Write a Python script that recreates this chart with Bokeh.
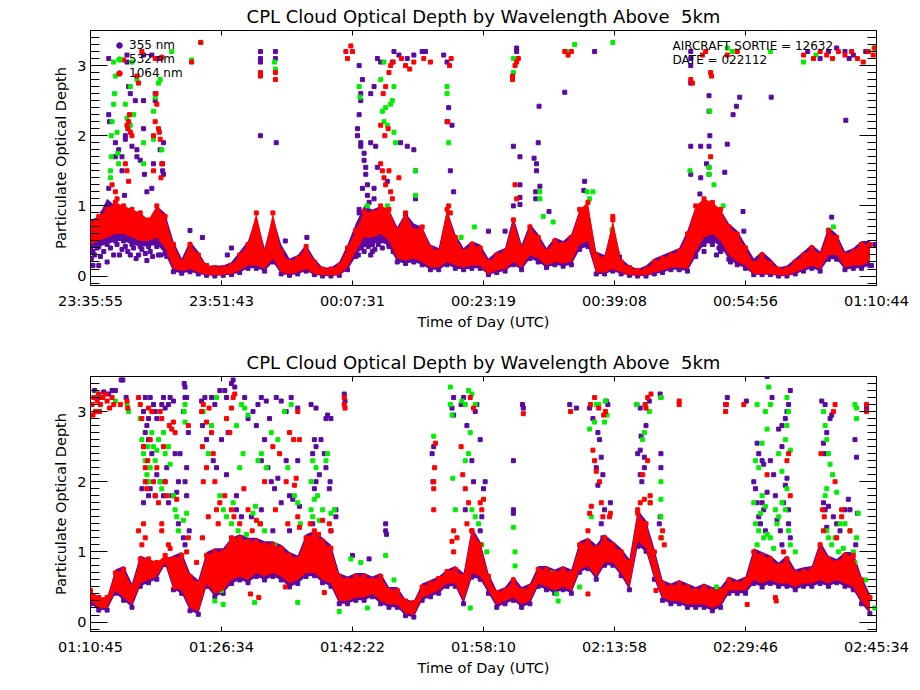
from bokeh.plotting import figure
from bokeh.models import (ColumnDataSource, FixedTicker, LinearAxis, Range1d,
                          Label, Legend, LegendItem, CustomJSTickFormatter)
from bokeh.layouts import column
from bokeh.embed import file_html
from bokeh.resources import INLINE

PURPLE = "#5a0aa0"
GREEN = "#00ee00"
RED = "#ff0000"
FONT = "DejaVu Sans"

TITLE = "CPL Cloud Optical Depth by Wavelength Above \u00a05km"

# tick positions are minutes after the start of each panel
tick_min = [0, 15.8, 31.6, 47.4, 63.2, 79.0, 94.8]
top_ticks = ["23:35:55", "23:51:43", "00:07:31", "00:23:19", "00:39:08", "00:54:56", "01:10:44"]
bot_ticks = ["01:10:45", "01:26:34", "01:42:22", "01:58:10", "02:13:58", "02:29:46", "02:45:34"]

# one-minute bins, minutes after panel start
band_t = [0, 1, 2, 3, 4, 5, 6, 7, 8, 9,
          10, 11, 12, 13, 14, 15, 16, 17, 18, 19,
          20, 21, 22, 23, 24, 25, 26, 27, 28, 29,
          30, 31, 32, 33, 34, 35, 36, 37, 38, 39,
          40, 41, 42, 43, 44, 45, 46, 47, 48, 49,
          50, 51, 52, 53, 54, 55, 56, 57, 58, 59,
          60, 61, 62, 63, 64, 65, 66, 67, 68, 69,
          70, 71, 72, 73, 74, 75, 76, 77, 78, 79,
          80, 81, 82, 83, 84, 85, 86, 87, 88, 89,
          90, 91, 92, 93, 94]

# ---- upper panel: spread of the dense low-level data per bin ----
top_red_lo = [0.45, 0.50, 0.55, 0.60, 0.60, 0.55, 0.50, 0.50, 0.55, 0.40,
              0.10, 0.07, 0.10, 0.05, 0.02, 0.01, 0.02, 0.03, 0.08, 0.15,
              0.15, 0.10, 0.25, 0.05, 0.03, 0.05, 0.10, 0.03, 0.01, 0.01,
              0.02, 0.12, 0.35, 0.55, 0.55, 0.60, 0.50, 0.25, 0.22, 0.25,
              0.20, 0.12, 0.12, 0.20, 0.15, 0.12, 0.15, 0.15, 0.03, 0.08,
              0.10, 0.20, 0.12, 0.30, 0.25, 0.15, 0.20, 0.18, 0.20, 0.45,
              0.50, 0.05, 0.05, 0.10, 0.05, 0.02, 0.01, 0.01, 0.05, 0.08,
              0.12, 0.12, 0.10, 0.35, 0.55, 0.60, 0.50, 0.30, 0.20, 0.15,
              0.03, 0.03, 0.03, 0.01, 0.01, 0.05, 0.10, 0.15, 0.10, 0.30,
              0.30, 0.12, 0.15, 0.15, 0.20]
top_red_hi = [0.75, 0.85, 0.95, 1.05, 1.00, 0.95, 0.90, 0.80, 1.00, 0.85,
              0.45, 0.20, 0.45, 0.30, 0.15, 0.12, 0.12, 0.15, 0.30, 0.45,
              0.90, 0.35, 0.90, 0.35, 0.20, 0.25, 0.42, 0.20, 0.10, 0.10,
              0.15, 0.40, 0.65, 0.92, 0.90, 1.00, 0.95, 0.65, 0.90, 0.65,
              0.70, 0.40, 0.35, 0.95, 0.55, 0.35, 0.45, 0.40, 0.20, 0.30,
              0.35, 0.80, 0.40, 0.70, 0.55, 0.35, 0.50, 0.45, 0.55, 0.95,
              1.05, 0.30, 0.25, 0.80, 0.20, 0.12, 0.08, 0.10, 0.20, 0.25,
              0.30, 0.35, 0.60, 1.00, 1.10, 1.05, 0.95, 0.70, 0.60, 0.40,
              0.18, 0.30, 0.18, 0.10, 0.10, 0.20, 0.30, 0.40, 0.30, 0.65,
              0.55, 0.30, 0.35, 0.45, 0.45]
top_pur_lo = [0.38, 0.42, 0.45, 0.50, 0.50, 0.45, 0.42, 0.42, 0.45, 0.32,
              0.06, 0.04, 0.06, 0.03, 0.01, 0.00, 0.01, 0.02, 0.05, 0.11,
              0.11, 0.07, 0.20, 0.03, 0.01, 0.03, 0.07, 0.02, 0.00, 0.00,
              0.01, 0.09, 0.28, 0.45, 0.45, 0.50, 0.42, 0.20, 0.18, 0.20,
              0.16, 0.09, 0.09, 0.16, 0.11, 0.09, 0.11, 0.11, 0.02, 0.05,
              0.07, 0.16, 0.09, 0.25, 0.20, 0.12, 0.16, 0.14, 0.16, 0.38,
              0.42, 0.03, 0.03, 0.07, 0.03, 0.01, 0.00, 0.00, 0.03, 0.05,
              0.09, 0.09, 0.07, 0.28, 0.45, 0.50, 0.42, 0.24, 0.16, 0.11,
              0.02, 0.02, 0.02, 0.00, 0.00, 0.03, 0.07, 0.11, 0.07, 0.24,
              0.24, 0.09, 0.11, 0.11, 0.15]
top_pur_hi = [0.80, 0.85, 1.10, 1.00, 1.00, 0.95, 0.90, 0.80, 1.00, 0.90,
              0.50, 0.25, 0.50, 0.35, 0.15, 0.15, 0.15, 0.20, 0.35, 0.50,
              0.85, 0.40, 0.85, 0.45, 0.25, 0.30, 0.45, 0.25, 0.12, 0.12,
              0.20, 0.45, 0.75, 1.00, 0.95, 1.00, 0.95, 0.70, 0.90, 0.75,
              0.70, 0.45, 0.40, 0.95, 0.60, 0.40, 0.50, 0.45, 0.25, 0.35,
              0.40, 0.85, 0.45, 0.75, 0.60, 0.40, 0.55, 0.50, 0.60, 0.95,
              1.00, 0.35, 0.30, 0.75, 0.25, 0.15, 0.10, 0.15, 0.25, 0.30,
              0.35, 0.40, 0.65, 1.00, 1.10, 1.00, 0.95, 0.75, 0.65, 0.45,
              0.25, 0.35, 0.25, 0.12, 0.15, 0.25, 0.35, 0.45, 0.35, 0.70,
              0.60, 0.35, 0.40, 0.50, 0.50]

# ---- upper panel: scattered retrievals (minute, optical depth) ----
top_purple_pts = [
    (1.5, 0.9), (1.8, 0.95), (2.2, 3.1), (2.2, 2.3), (2.3, 2.2), (2.2, 1.25), (3.0, 1.7),
    (3.0, 1.9), (3.4, 1.8), (3.8, 1.5), (3.8, 1.7), (4.1, 1.15), (4.4, 3.05), (4.4, 3.15),
    (4.6, 2.7), (4.8, 2.6), (4.2, 1.95), (4.2, 2.0), (5.0, 1.85), (5.4, 2.5), (5.6, 1.7),
    (5.6, 1.8), (6.0, 1.65), (6.4, 2.5), (6.4, 2.1), (6.5, 1.45), (6.8, 1.2), (7.6, 1.6),
    (7.4, 1.25), (7.8, 2.5), (7.8, 2.6), (8.4, 1.8), (8.8, 1.9), (8.7, 1.5), (8.7, 1.6),
    (8.8, 1.45), (8.4, 3.1), (6.4, 3.15), (7.4, 3.15), (3.5, 0.3), (4.5, 0.35), (5.8, 0.3),
    (6.8, 0.22), (8.5, 0.3), (1.0, 0.15), (0.3, 0.15), (2.0, 0.2), (0.5, 0.3), (1.2, 0.28),
    (1.6, 0.35), (2.4, 0.4), (2.8, 0.3), (3.2, 0.45), (3.8, 0.38), (4.2, 0.42), (4.8, 0.3),
    (5.2, 0.4), (5.5, 0.25), (6.2, 0.38), (6.6, 0.32), (7.2, 0.35), (7.5, 0.28), (8.0, 0.42),
    (8.2, 0.3), (9.2, 0.28), (0.1, 0.25), (0.8, 0.4), (0.3, 0.35), (12.0, 0.65), (13.5, 0.55),
    (16.5, 0.3), (17.0, 0.4), (20.5, 3.1), (20.5, 3.2), (20.5, 3.05), (20.5, 2.0), (22.3, 3.2),
    (22.3, 3.1), (22.4, 1.9), (21.8, 0.5), (23.5, 0.5), (26.1, 0.55),
    (32.4, 3.0), (32.8, 2.8), (32.6, 2.5), (32.6, 2.6), (32.4, 2.3), (32.2, 2.0), (32.2, 2.1),
    (32.6, 1.85), (32.6, 1.9), (33.0, 1.65), (33.0, 1.75), (33.2, 1.45), (33.2, 1.55),
    (33.4, 1.15), (33.4, 1.3), (33.8, 2.6), (33.8, 1.9), (34.2, 2.7), (34.4, 1.85), (34.2, 1.1),
    (34.2, 1.25), (34.6, 1.55), (33.6, 1.05), (32.8, 1.25), (32.4, 0.9), (32.4, 0.95),
    (34.6, 3.1), (35.0, 3.05), (35.8, 1.35), (36.4, 3.05), (36.6, 3.2), (37.2, 3.15),
    (38.2, 3.1), (39.0, 3.15), (40.0, 3.2), (40.4, 3.2), (38.2, 1.85), (39.0, 1.8), (39.2, 1.5),
    (39.2, 1.1), (37.4, 1.9), (38.0, 0.88), (35.9, 0.75), (33.2, 0.45), (34.0, 0.35),
    (32.3, 0.3), (32.7, 0.4), (33.0, 0.35), (33.5, 0.42), (33.8, 0.3), (34.3, 0.38),
    (34.7, 0.45), (35.2, 0.4), (35.5, 0.5), (36.0, 0.45), (36.5, 0.35), (33.2, 0.6), (34.0, 0.55),
    (42.6, 3.15), (43.0, 2.2), (43.2, 2.4), (43.4, 1.5), (43.6, 2.15), (43.8, 1.2), (43.0, 3.05),
    (51.4, 3.2), (51.4, 3.25), (51.0, 1.85), (51.8, 1.7), (51.0, 1.0), (51.8, 1.12), (51.8, 1.3),
    (51.8, 1.02), (50.0, 0.64), (54.1, 2.42), (54.0, 1.9), (53.5, 1.68), (53.8, 1.5), (53.8, 1.6),
    (54.2, 1.28), (53.7, 1.1), (53.7, 1.2), (55.3, 0.92), (57.2, 2.62), (60.8, 3.2), (59.6, 1.35),
    (59.5, 1.22), (48.0, 0.64), (63.8, 0.27),
    (72.4, 3.0), (72.4, 3.1), (72.4, 3.2), (72.4, 2.75), (72.4, 1.85), (72.4, 1.45), (73.6, 1.85),
    (73.6, 1.4), (74.6, 1.85), (74.7, 2.0), (74.6, 2.35), (74.6, 2.57), (74.3, 1.6), (74.6, 1.45),
    (74.6, 1.55), (73.5, 1.17), (76.5, 1.48), (76.8, 1.88), (77.5, 2.3), (77.9, 2.42),
    (78.3, 2.55), (82.1, 2.55), (78.7, 0.92), (78.8, 0.64), (91.1, 2.22), (89.4, 0.84),
    (75.5, 0.3), (76.0, 0.35), (76.4, 0.4), (73.2, 0.45), (74.0, 0.35), (74.5, 0.5),
    (75.0, 0.45), (75.8, 0.4), (76.6, 0.38), (77.2, 0.2), (86.5, 3.2), (89.0, 3.2), (90.0, 3.25),
    (91.0, 3.2), (92.0, 3.15), (93.5, 3.2), (88.0, 3.1), (91.5, 3.1), (94.6, 0.45), (94.2, 0.15)]
top_green_pts = [
    (2.4, 1.4), (2.4, 1.5), (2.5, 1.7), (2.5, 2.0), (2.6, 2.2), (2.8, 2.45), (2.9, 2.6),
    (3.0, 2.85), (2.8, 3.05), (3.2, 2.05), (3.4, 1.6), (3.3, 1.75), (4.2, 2.45), (4.4, 2.25),
    (4.6, 2.1), (4.8, 2.15), (4.8, 2.7), (5.2, 2.3), (5.0, 3.05), (5.6, 2.8), (6.4, 1.9),
    (6.4, 1.6), (7.6, 2.35), (7.8, 2.55), (8.2, 2.75), (8.4, 2.8), (8.6, 1.8), (7.6, 1.95),
    (9.8, 3.2), (12.2, 3.08), (13.3, 3.33), (22.3, 2.95), (22.2, 3.05), (32.4, 2.7),
    (32.5, 2.55), (35.0, 2.8), (35.2, 2.35), (35.4, 2.2), (35.6, 2.4), (35.8, 2.15),
    (36.2, 2.45), (36.4, 2.5), (36.6, 2.05), (36.8, 1.9), (35.4, 3.05), (36.6, 2.7), (35.8, 1.0),
    (39.2, 1.5), (39.2, 1.15), (43.0, 2.6), (43.0, 2.7), (43.2, 1.9), (44.7, 0.55), (46.3, 0.7),
    (51.0, 3.1), (51.0, 2.9), (54.2, 1.2), (54.2, 1.1), (54.6, 0.85), (55.8, 0.77), (57.4, 3.2),
    (58.4, 3.3), (59.9, 1.2), (60.6, 1.2), (62.9, 0.66), (63.0, 3.33), (72.3, 1.5), (74.6, 1.55),
    (74.6, 1.45), (74.7, 2.35), (75.2, 1.3), (76.3, 1.0), (76.8, 3.25), (77.4, 3.2), (82.0, 3.2),
    (86.0, 3.05), (87.5, 3.15), (94.5, 3.25), (89.6, 0.7), (20.0, 0.55), (23.0, 0.25),
    (33.4, 1.0), (60.2, 1.1), (81.0, 0.2)]
top_red_pts = [
    (2.6, 1.3), (3.0, 1.2), (3.2, 1.1), (4.2, 1.6), (4.4, 1.5), (4.6, 1.35), (4.4, 2.15),
    (4.5, 2.1), (4.6, 2.2), (4.8, 2.05), (5.0, 2.0), (4.7, 2.3), (5.6, 2.85), (5.8, 2.75),
    (6.2, 3.2), (4.0, 3.08), (7.6, 2.0), (7.8, 2.2), (7.9, 2.6), (8.0, 2.45), (8.2, 2.1),
    (8.3, 2.05), (8.4, 1.95), (7.6, 1.5), (8.5, 1.4), (8.6, 1.6), (8.6, 3.12), (7.8, 3.1),
    (12.2, 3.05), (13.3, 3.33), (20.5, 2.85), (20.5, 2.9), (22.3, 2.9), (22.3, 2.8), (30.8, 3.2),
    (31.0, 3.1), (31.4, 3.28), (31.6, 3.2), (35.0, 1.6), (35.2, 1.5), (35.4, 1.4), (35.6, 1.3),
    (35.0, 2.15), (35.5, 2.0), (35.9, 2.1), (35.3, 2.6), (35.6, 2.7), (36.0, 2.9), (36.2, 3.0),
    (36.5, 3.05), (36.0, 1.5), (36.2, 1.2), (36.4, 1.1), (37.5, 3.1), (38.0, 3.0), (38.5, 2.95),
    (39.0, 3.05), (40.2, 3.1), (41.0, 3.05), (43.1, 2.2), (43.3, 3.0), (43.5, 3.1), (43.2, 1.0),
    (43.4, 0.9), (37.2, 1.4), (50.9, 2.8), (50.9, 2.85), (51.2, 3.0), (51.4, 3.05), (51.6, 3.1),
    (51.2, 1.3), (51.4, 1.1), (57.2, 3.2), (57.6, 3.15), (58.0, 3.2), (63.0, 0.85), (72.4, 2.8),
    (72.6, 2.75), (73.8, 3.15), (74.2, 3.2), (74.8, 2.9), (74.9, 2.85), (74.8, 1.7), (76.8, 3.15),
    (78.0, 3.2), (86.0, 3.15), (87.2, 3.1), (88.0, 3.2), (88.8, 3.15), (89.5, 3.1), (90.2, 3.2),
    (91.0, 3.15), (91.8, 3.2), (92.5, 3.1), (93.2, 3.05), (93.8, 3.2), (94.4, 3.15), (94.6, 3.25)]

# ---- lower panel: spread of the dense low-level data per bin ----
bot_red_lo = [0.30, 0.20, 0.20, 0.45, 0.35, 0.25, 0.55, 0.60, 0.65, 0.85,
              0.50, 0.45, 0.20, 0.15, 0.55, 0.40, 0.45, 0.60, 0.65, 0.60,
              0.70, 0.65, 0.70, 0.65, 0.55, 0.60, 0.70, 0.70, 0.60, 0.55,
              0.30, 0.30, 0.35, 0.35, 0.40, 0.30, 0.25, 0.25, 0.12, 0.10,
              0.35, 0.40, 0.45, 0.55, 0.55, 0.30, 0.70, 0.65, 0.45, 0.25,
              0.30, 0.35, 0.25, 0.30, 0.55, 0.50, 0.45, 0.50, 0.45, 0.75,
              0.80, 0.65, 0.85, 0.85, 0.70, 0.50, 1.15, 1.05, 0.65, 0.35,
              0.30, 0.30, 0.25, 0.25, 0.25, 0.20, 0.25, 0.45, 0.45, 0.45,
              0.60, 0.55, 0.60, 0.55, 0.55, 0.50, 0.55, 0.55, 0.60, 0.55,
              0.60, 0.55, 0.50, 0.30, 0.15]
bot_red_hi = [0.45, 0.35, 0.35, 0.70, 0.75, 0.50, 0.90, 0.90, 0.85, 0.95,
              0.90, 0.95, 0.65, 0.55, 0.95, 1.00, 1.00, 1.20, 1.20, 1.15,
              1.15, 1.10, 1.10, 1.05, 0.95, 0.90, 1.20, 1.25, 1.15, 1.05,
              0.65, 0.60, 0.65, 0.65, 0.60, 0.65, 0.45, 0.45, 0.30, 0.28,
              0.50, 0.55, 0.62, 0.72, 0.75, 0.65, 1.30, 1.10, 0.65, 0.42,
              0.45, 0.60, 0.45, 0.50, 0.75, 0.75, 0.70, 0.75, 0.70, 1.10,
              1.15, 1.05, 1.20, 1.10, 1.00, 0.85, 1.55, 1.40, 1.00, 0.55,
              0.50, 0.55, 0.50, 0.45, 0.50, 0.45, 0.45, 0.60, 0.55, 0.60,
              1.00, 0.95, 0.90, 0.80, 0.90, 0.70, 0.72, 0.75, 1.10, 0.90,
              0.85, 0.95, 0.95, 0.60, 0.35]
bot_pur_lo = [0.26, 0.17, 0.17, 0.41, 0.31, 0.21, 0.51, 0.56, 0.61, 0.82,
              0.46, 0.41, 0.16, 0.11, 0.51, 0.36, 0.41, 0.55, 0.60, 0.56,
              0.65, 0.60, 0.65, 0.60, 0.50, 0.55, 0.65, 0.66, 0.56, 0.51,
              0.26, 0.26, 0.31, 0.31, 0.36, 0.26, 0.21, 0.21, 0.09, 0.07,
              0.31, 0.36, 0.41, 0.51, 0.51, 0.26, 0.64, 0.61, 0.41, 0.21,
              0.26, 0.31, 0.21, 0.26, 0.51, 0.46, 0.41, 0.46, 0.41, 0.71,
              0.76, 0.61, 0.81, 0.81, 0.66, 0.46, 1.08, 1.01, 0.61, 0.31,
              0.26, 0.26, 0.21, 0.21, 0.21, 0.16, 0.21, 0.41, 0.41, 0.41,
              0.55, 0.50, 0.55, 0.51, 0.51, 0.46, 0.51, 0.51, 0.55, 0.51,
              0.56, 0.51, 0.46, 0.26, 0.12]
bot_pur_hi = [0.45, 0.35, 0.35, 0.75, 0.80, 0.55, 0.95, 0.90, 0.85, 0.90,
              0.95, 1.00, 0.70, 0.60, 1.00, 1.05, 1.05, 1.20, 1.25, 1.20,
              1.20, 1.15, 1.15, 1.10, 1.00, 0.95, 1.25, 1.30, 1.20, 1.10,
              0.70, 0.65, 0.70, 0.70, 0.65, 0.70, 0.50, 0.50, 0.32, 0.30,
              0.55, 0.60, 0.65, 0.75, 0.80, 0.70, 1.35, 1.15, 0.70, 0.45,
              0.50, 0.65, 0.50, 0.55, 0.80, 0.80, 0.75, 0.80, 0.75, 1.15,
              1.20, 1.10, 1.25, 1.15, 1.05, 0.90, 1.60, 1.45, 1.05, 0.60,
              0.55, 0.60, 0.55, 0.50, 0.55, 0.50, 0.50, 0.65, 0.60, 0.65,
              1.05, 1.00, 0.95, 0.85, 0.95, 0.75, 0.78, 0.80, 1.15, 0.95,
              0.90, 1.00, 1.00, 0.65, 0.40]

# ---- lower panel: scattered retrievals (minute, optical depth) ----
bot_purple_pts = [
    (0.5, 3.3), (1.0, 3.2), (1.6, 3.28), (2.2, 3.25), (2.6, 3.3), (3.0, 3.3), (3.7, 3.45),
    (3.9, 3.45), (4.3, 3.2), (6.4, 3.0), (6.6, 3.2), (6.8, 2.8), (7.0, 2.9), (7.2, 3.2),
    (7.6, 3.1), (7.8, 3.0), (8.0, 2.9), (8.6, 3.1), (8.8, 3.2), (9.0, 3.05), (9.4, 3.1),
    (9.6, 3.2), (10.0, 3.15), (6.4, 2.5), (6.6, 2.7), (7.0, 2.6), (7.4, 2.4), (6.8, 2.0),
    (7.2, 1.9), (7.8, 1.8), (8.0, 2.1), (8.4, 2.0), (8.8, 1.8), (9.0, 2.0), (9.2, 2.2),
    (9.4, 1.7), (9.8, 1.8), (10.2, 2.4), (10.4, 1.85), (6.4, 1.7), (7.0, 1.8), (6.2, 1.9),
    (11.3, 3.4), (11.4, 3.35), (11.4, 3.2), (11.6, 3.2), (11.2, 3.0), (11.8, 2.7), (11.6, 2.2),
    (11.4, 2.0), (11.6, 1.8), (11.2, 1.2), (11.4, 1.1), (10.8, 2.4), (10.6, 2.0), (10.6, 1.4),
    (11.9, 1.3), (13.4, 3.15), (13.8, 3.2), (14.6, 3.2), (15.0, 3.1), (15.6, 3.3), (16.2, 3.3),
    (16.4, 3.2), (17.0, 3.4), (17.2, 3.45), (17.4, 3.35), (13.5, 2.8), (14.0, 2.6), (14.8, 2.3),
    (15.2, 2.2), (15.8, 2.6), (16.4, 2.1), (16.6, 2.7), (17.6, 1.8), (17.6, 1.6), (18.2, 1.5),
    (18.2, 1.2), (17.2, 0.75), (14.4, 0.8), (18.6, 3.2), (19.0, 2.9), (19.6, 3.0), (20.2, 3.1),
    (20.6, 3.2), (21.2, 3.15), (21.6, 2.9), (22.4, 3.2), (23.0, 3.15), (23.6, 3.0), (24.2, 3.2),
    (25.0, 3.05), (20.0, 2.8), (20.6, 2.3), (21.0, 2.6), (21.4, 2.2), (21.8, 2.0), (22.2, 1.9),
    (22.6, 2.05), (23.0, 1.7), (23.6, 2.3), (24.0, 1.8), (24.4, 1.75), (25.0, 2.3), (25.2, 1.65),
    (19.4, 1.5), (20.6, 1.6), (22.0, 1.3), (24.0, 1.3), (26.6, 3.1), (27.2, 3.05), (27.0, 2.6),
    (27.2, 2.5), (26.8, 2.4), (27.2, 2.0), (27.0, 1.9), (27.6, 2.1), (27.8, 2.6), (28.2, 2.4),
    (28.4, 2.2), (28.4, 2.9), (28.6, 2.95), (29.0, 2.9), (28.8, 1.9), (28.9, 2.0), (29.6, 1.6),
    (29.0, 1.3), (26.8, 1.4), (29.6, 1.5), (30.6, 3.25), (30.7, 3.15), (31.6, 0.95),
    (33.6, 0.9), (35.6, 1.4), (35.6, 1.3), (35.7, 1.25), (41.2, 2.4), (41.3, 2.0), (41.4, 2.5),
    (43.8, 3.2), (43.6, 3.05), (43.8, 2.95), (44.7, 3.1), (45.0, 3.2), (45.4, 2.8), (45.2, 1.6),
    (46.0, 2.3), (46.2, 2.0), (46.4, 3.0), (46.6, 3.1), (47.0, 2.6), (47.4, 1.9), (47.2, 1.5),
    (47.0, 1.3), (47.6, 2.0), (51.0, 2.3), (51.0, 1.55), (51.0, 1.6), (52.2, 3.05), (52.1, 3.1),
    (57.8, 3.1), (58.6, 3.05), (60.2, 3.05), (60.6, 2.9), (61.2, 2.7), (61.4, 2.6), (61.0, 2.2),
    (61.2, 1.95), (61.6, 2.35), (61.8, 2.1), (62.2, 3.15), (62.4, 3.1), (61.6, 1.4), (62.0, 1.6),
    (61.8, 1.2), (60.0, 1.1), (62.7, 1.7), (66.3, 2.45), (66.4, 2.65), (66.0, 2.4), (66.3, 2.1),
    (66.5, 2.0), (66.8, 2.2), (66.8, 2.35), (65.9, 3.1), (66.3, 3.05), (67.0, 2.8), (67.4, 3.15),
    (68.7, 3.25), (68.8, 3.2), (68.8, 2.4), (68.8, 2.2), (68.7, 1.5), (68.6, 1.4), (76.6, 3.1),
    (76.8, 3.2), (79.1, 3.15), (80.0, 2.0), (80.2, 1.9), (80.4, 1.7), (80.6, 1.5), (80.8, 1.4),
    (81.0, 1.7), (81.2, 1.6), (81.4, 1.3), (81.6, 1.85), (81.0, 2.3), (80.6, 2.4), (82.0, 2.3),
    (82.4, 2.1), (82.6, 1.8), (82.8, 1.45), (83.2, 1.3), (83.6, 1.7), (83.8, 1.95), (84.0, 2.05),
    (84.2, 1.4), (84.4, 1.2), (83.0, 2.75), (83.4, 2.8), (83.8, 2.9), (84.0, 3.0), (84.2, 3.1),
    (84.4, 3.3), (83.4, 2.5), (81.2, 2.25), (80.4, 2.55), (82.2, 3.2), (81.6, 3.5), (84.2, 1.6),
    (83.4, 1.1), (88.2, 3.15), (88.6, 3.1), (88.8, 2.7), (89.2, 2.9), (89.4, 2.95), (88.4, 2.55),
    (88.6, 2.4), (88.4, 1.7), (88.6, 1.6), (89.0, 1.65), (89.6, 1.5), (90.0, 1.4), (88.8, 1.35),
    (90.4, 1.3), (91.0, 1.6), (91.4, 1.75), (91.6, 1.6), (92.2, 2.6), (92.4, 2.35), (92.5, 1.55),
    (92.3, 1.1), (93.6, 3.05), (92.8, 0.5)]
bot_green_pts = [
    (3.0, 3.15), (4.4, 3.1), (4.6, 3.0), (0.9, 3.25), (6.0, 2.9), (6.2, 2.6), (6.4, 2.4),
    (6.6, 2.3), (6.8, 2.1), (6.9, 2.5), (7.0, 2.0), (7.2, 2.2), (7.4, 2.7), (7.6, 2.5),
    (7.8, 2.3), (8.0, 2.45), (8.2, 2.6), (8.4, 2.0), (8.6, 1.9), (8.8, 2.7), (9.0, 2.4),
    (9.4, 2.5), (9.6, 2.25), (10.0, 1.8), (10.2, 1.6), (10.4, 1.5), (10.6, 1.3), (11.2, 1.45),
    (11.4, 2.85), (11.4, 3.1), (11.3, 3.0), (11.6, 1.55), (13.6, 3.0), (14.2, 2.4), (14.6, 2.8),
    (15.2, 3.2), (15.6, 1.8), (16.0, 1.6), (16.4, 1.5), (17.0, 1.4), (17.2, 1.7), (17.6, 2.8),
    (18.2, 3.1), (18.6, 3.05), (19.0, 2.95), (18.0, 2.2), (18.4, 2.4), (17.8, 1.3), (18.8, 1.25),
    (19.6, 1.55), (19.9, 1.65), (20.4, 1.4), (21.0, 1.3), (21.2, 2.2), (20.6, 2.4), (20.2, 2.3),
    (21.8, 2.7), (22.6, 2.6), (23.4, 3.0), (24.2, 3.1), (23.8, 2.2), (24.6, 1.8), (25.0, 1.7),
    (25.3, 1.4), (22.2, 1.1), (15.0, 0.3), (15.8, 0.45), (16.0, 0.25), (19.8, 0.28), (25.0, 0.28),
    (26.6, 1.6), (26.8, 1.5), (27.0, 1.75), (27.2, 2.2), (27.4, 1.8), (27.6, 1.45), (28.0, 1.6),
    (28.4, 2.3), (28.6, 2.4), (29.0, 1.55), (29.4, 1.6), (26.8, 2.3), (26.6, 2.0), (30.0, 0.15),
    (31.4, 0.9), (32.6, 0.85), (33.4, 0.2), (35.6, 0.95), (36.6, 0.6), (41.4, 2.65), (43.4, 3.35),
    (43.4, 3.1), (43.6, 2.95), (43.7, 2.05), (44.0, 1.6), (44.8, 3.15), (45.2, 3.1), (45.6, 3.3),
    (46.0, 3.25), (46.4, 3.1), (45.8, 2.7), (45.6, 2.4), (45.2, 2.3), (46.0, 1.6), (46.4, 1.5),
    (46.8, 1.4), (47.2, 1.1), (47.8, 1.0), (45.8, 0.2), (51.0, 1.35), (51.2, 1.0), (51.2, 0.8),
    (55.7, 0.7), (56.2, 0.4), (56.4, 0.3), (59.0, 0.5), (60.4, 1.5), (60.8, 2.85), (61.0, 3.1),
    (61.3, 3.1), (62.1, 3.15), (62.0, 2.85), (60.2, 2.75), (62.3, 2.95), (65.9, 3.1), (66.6, 2.6),
    (66.8, 2.7), (67.4, 3.0), (67.5, 1.7), (68.8, 3.2), (68.8, 2.0), (68.8, 1.75), (68.8, 1.5),
    (68.9, 1.2), (75.5, 0.5), (76.0, 0.45), (80.0, 1.7), (80.2, 1.4), (80.4, 1.1), (80.6, 1.3),
    (80.8, 1.55), (81.0, 1.8), (81.2, 1.2), (81.4, 1.65), (81.6, 1.25), (82.0, 1.2), (82.4, 1.05),
    (82.6, 1.6), (82.8, 1.4), (83.0, 1.5), (83.4, 1.7), (83.8, 1.6), (84.0, 1.9), (84.2, 1.3),
    (84.4, 1.1), (80.2, 2.3), (80.6, 2.2), (81.0, 2.55), (81.4, 3.0), (80.4, 3.1), (81.6, 2.75),
    (83.0, 2.4), (83.4, 2.15), (83.8, 2.6), (84.0, 2.8), (84.2, 3.0), (84.4, 2.45), (82.0, 3.1),
    (81.8, 3.35), (84.0, 3.2), (85.0, 1.0), (88.4, 3.0), (88.6, 2.8), (88.8, 2.6), (89.0, 2.4),
    (89.2, 2.25), (88.6, 1.8), (88.8, 1.3), (89.0, 1.2), (89.4, 1.1), (89.8, 1.2), (90.2, 1.0),
    (90.4, 1.4), (90.8, 1.05), (91.2, 0.9), (91.6, 1.3), (92.0, 1.0), (92.2, 0.85), (92.4, 1.2),
    (92.6, 1.55), (92.4, 2.9), (92.2, 3.1), (92.4, 3.05), (90.0, 1.85), (91.0, 1.4), (89.5, 2.1),
    (88.8, 1.9), (93.5, 0.6), (94.0, 0.35), (94.6, 0.2)]
bot_red_pts = [
    (0.2, 3.1), (0.4, 3.2), (0.6, 3.0), (0.8, 3.15), (1.0, 3.25), (1.2, 3.1), (1.5, 3.2),
    (1.8, 3.25), (2.0, 3.15), (2.3, 3.05), (2.6, 3.2), (2.8, 3.1), (0.3, 2.95), (1.1, 3.0),
    (3.6, 3.1), (4.4, 3.15), (4.5, 3.05), (5.8, 3.2), (6.0, 3.1), (6.2, 2.9), (6.4, 2.5),
    (6.6, 2.2), (6.6, 2.0), (6.8, 1.9), (6.9, 2.3), (7.2, 2.6), (7.0, 3.05), (7.4, 3.0),
    (7.6, 2.0), (7.8, 1.8), (8.0, 2.2), (8.2, 1.7), (8.4, 3.0), (8.6, 2.9), (8.8, 2.5),
    (9.0, 2.0), (9.2, 1.8), (9.5, 2.8), (9.8, 2.75), (10.0, 2.85), (10.2, 2.7), (8.6, 1.4),
    (8.6, 1.3), (9.4, 1.1), (9.6, 1.05), (10.0, 0.8), (10.2, 0.5), (6.4, 1.4), (6.6, 1.2),
    (5.8, 1.3), (6.2, 1.1), (10.4, 1.75), (11.8, 2.8), (11.6, 1.0), (11.8, 1.2), (13.4, 3.0),
    (13.6, 3.1), (14.0, 2.85), (14.3, 3.05), (14.6, 2.7), (14.8, 2.4), (13.5, 2.5), (13.6, 2.0),
    (14.0, 2.2), (15.0, 2.0), (15.2, 1.6), (15.4, 1.4), (15.6, 1.7), (16.2, 1.8), (16.4, 2.9),
    (16.8, 2.7), (17.0, 3.05), (17.2, 3.2), (17.4, 3.25), (17.0, 1.6), (17.3, 1.5), (18.0, 1.4),
    (18.5, 1.9), (19.0, 1.6), (19.5, 1.3), (20.0, 1.45), (13.5, 1.2), (14.2, 1.5), (12.8, 0.85),
    (21.0, 2.0), (22.0, 2.5), (22.8, 2.4), (23.6, 2.0), (24.0, 2.7), (24.5, 2.6), (24.6, 1.95),
    (25.0, 3.0), (25.2, 2.6), (24.8, 2.05), (20.5, 1.4), (22.3, 1.6), (23.8, 1.4), (25.0, 1.5),
    (25.2, 1.35), (23.5, 0.5), (19.3, 0.4), (20.3, 0.35), (26.5, 1.4), (27.0, 1.3),
    (27.5, 1.25), (28.0, 1.45), (28.8, 1.4), (29.0, 1.3), (28.2, 0.42), (30.6, 3.1), (30.6, 3.2),
    (30.7, 3.05), (41.4, 2.0), (41.4, 1.6), (41.4, 1.9), (41.6, 2.55), (41.5, 2.2), (43.6, 1.15),
    (43.8, 1.3), (43.8, 1.0), (44.2, 1.2), (44.7, 2.5), (44.9, 2.1), (45.2, 1.9), (45.4, 1.4),
    (46.0, 1.3), (45.6, 1.7), (45.8, 3.2), (46.2, 3.05), (47.0, 1.7), (47.4, 1.75), (47.2, 1.6),
    (52.2, 2.97), (57.9, 3.0), (60.0, 1.3), (60.2, 1.55), (60.4, 1.65), (60.6, 2.45), (60.8, 2.3),
    (61.0, 2.15), (61.4, 2.0), (61.6, 1.7), (61.8, 1.5), (60.3, 3.1), (60.8, 3.2), (61.3, 3.05),
    (62.1, 3.0), (61.9, 2.95), (62.6, 1.5), (62.7, 1.55), (61.3, 1.0), (60.0, 0.4), (66.0, 1.6),
    (66.3, 1.7), (66.8, 1.75), (67.5, 1.7), (67.5, 1.8), (66.6, 2.1), (67.2, 2.3), (67.0, 3.05),
    (67.2, 3.2), (67.6, 3.25), (66.9, 3.1), (68.8, 1.2), (69.0, 1.3), (69.2, 1.1), (68.2, 0.45),
    (71.0, 3.15), (71.0, 3.1), (76.6, 3.0), (76.7, 3.1), (78.8, 3.1), (79.2, 0.25), (82.6, 0.35),
    (82.7, 0.3), (81.6, 2.1), (84.2, 2.4), (84.0, 2.3), (84.4, 1.8), (83.6, 1.0), (88.1, 2.4),
    (88.3, 1.6), (88.5, 1.5), (89.6, 3.0), (89.8, 3.1), (90.0, 1.2), (89.8, 2.0), (90.6, 1.6),
    (90.6, 1.5), (91.6, 1.3), (93.6, 3.1), (93.6, 3.0), (91.0, 0.95), (88.4, 1.3)]

legend_names = ["355 nm", "532 nm", "1064 nm"]
legend_colors = [PURPLE, GREEN, RED]
info_lines = ["AIRCRAFT SORTIE =  12632", "DATE = 022112"]


def ticker_y():
    minor = [k / 10 for k in range(-1, 36) if k % 10 != 0]
    return FixedTicker(ticks=[0, 1, 2, 3], minor_ticks=minor)


def style_axis(ax):
    ax.axis_line_color = None
    ax.major_tick_line_color = "black"
    ax.minor_tick_line_color = "black"
    ax.major_tick_out = 0
    ax.minor_tick_out = 0
    ax.major_label_text_font = FONT
    ax.major_label_text_font_size = "14.5px"
    ax.major_label_text_color = "black"
    ax.axis_label_text_font = FONT
    ax.axis_label_text_font_size = "14.5px"
    ax.axis_label_text_font_style = "normal"
    ax.axis_label_text_color = "black"


def ticks_only(ax):
    # mirrored axis: ticks but no labels
    style_axis(ax)
    ax.formatter = CustomJSTickFormatter(code="return ''")
    ax.major_label_standoff = 0


def pts_source(pts):
    return ColumnDataSource(data=dict(t=[a for a, b in pts], v=[b for a, b in pts]))


def make_panel(tick_labels, pur_lo, pur_hi, red_lo, red_hi,
               pur_pts, grn_pts, red_pts, with_legend):
    p = figure(frame_width=786, frame_height=255,
               x_range=Range1d(0, 94.8), y_range=Range1d(-0.135, 3.5),
               min_border_left=90, min_border_right=44,
               min_border_top=29, min_border_bottom=61,
               toolbar_location=None, output_backend="svg",
               background_fill_color="white", border_fill_color="white",
               outline_line_color="black", outline_line_width=1,
               x_axis_label="Time of Day (UTC)",
               y_axis_label="Particulate Optical Depth")
    p.title.text = TITLE
    p.title.align = "center"
    p.title.text_font = FONT
    p.title.text_font_size = "18px"
    p.title.text_font_style = "normal"
    p.title.text_color = "black"
    p.title.standoff = 7
    p.xgrid.visible = False
    p.ygrid.visible = False

    # bottom axis with labels, top axis with ticks only
    p.xaxis.ticker = FixedTicker(ticks=tick_min, minor_ticks=[])
    p.xaxis.major_label_overrides = dict(zip(tick_min, tick_labels))
    style_axis(p.xaxis[0])
    p.xaxis.major_tick_in = 5
    p.xaxis.major_label_standoff = 7
    p.xaxis.axis_label_standoff = 2
    top = LinearAxis(ticker=FixedTicker(ticks=tick_min, minor_ticks=[]))
    ticks_only(top)
    top.major_tick_in = 5
    p.add_layout(top, "above")

    p.yaxis.ticker = ticker_y()
    style_axis(p.yaxis[0])
    p.yaxis.major_tick_in = 17
    p.yaxis.minor_tick_in = 9
    p.yaxis.major_label_standoff = 4
    p.yaxis.axis_label_standoff = 5
    right = LinearAxis(ticker=ticker_y())
    ticks_only(right)
    right.major_tick_in = 17
    right.minor_tick_in = 9
    p.add_layout(right, "right")

    # dense low-level retrievals: spread per minute bin, ragged dots on its edges
    pur_band = ColumnDataSource(data=dict(t=band_t, lo=pur_lo, hi=pur_hi))
    red_band = ColumnDataSource(data=dict(t=band_t, lo=red_lo, hi=red_hi))
    p.varea(x="t", y1="lo", y2="hi", source=pur_band, fill_color=PURPLE)
    p.scatter("t", "lo", source=pur_band, marker="square", size=4,
              fill_color=PURPLE, line_color=PURPLE)
    p.scatter("t", "v", source=pts_source(pur_pts), marker="square", size=4,
              fill_color=PURPLE, line_color=PURPLE)
    p.scatter("t", "v", source=pts_source(grn_pts), marker="square", size=4,
              fill_color=GREEN, line_color=GREEN)
    p.varea(x="t", y1="lo", y2="hi", source=red_band, fill_color=RED)
    p.scatter("t", "hi", source=red_band, marker="square", size=4,
              fill_color=RED, line_color=RED)
    p.scatter("t", "v", source=pts_source(red_pts), marker="square", size=4,
              fill_color=RED, line_color=RED)

    if with_legend:
        items = []
        for name, col in zip(legend_names, legend_colors):
            # legend swatch only: a glyph with no visible point
            r = p.scatter([float("nan")], [float("nan")], marker="circle", size=8,
                          fill_color=col, line_color=col)
            items.append(LegendItem(label=name, renderers=[r]))
        leg = Legend(items=items, location=(22, 205), orientation="vertical",
                     glyph_width=14, glyph_height=14, label_height=14, spacing=0,
                     padding=0, margin=0, label_standoff=3,
                     label_text_font=FONT, label_text_font_size="12px",
                     label_text_color="black",
                     background_fill_alpha=0, border_line_color=None)
        p.add_layout(leg)
        for i, txt in enumerate(info_lines):
            p.add_layout(Label(x=582, y=240 - 14 * i, x_units="screen", y_units="screen",
                               text=txt, text_font=FONT, text_font_size="12px",
                               text_baseline="middle", text_color="black"))
    return p


p1 = make_panel(top_ticks, top_pur_lo, top_pur_hi, top_red_lo, top_red_hi,
                top_purple_pts, top_green_pts, top_red_pts, True)
p2 = make_panel(bot_ticks, bot_pur_lo, bot_pur_hi, bot_red_lo, bot_red_hi,
                bot_purple_pts, bot_green_pts, bot_red_pts, False)

p = column(p1, p2)
open("out.html", "w").write(file_html(p, INLINE))
